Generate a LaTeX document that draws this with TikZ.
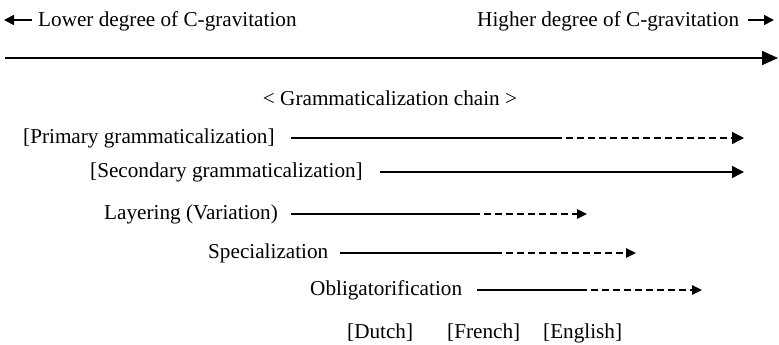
\documentclass[tikz,border=0pt]{standalone}
\usepackage{fontspec}
\setmainfont{Liberation Serif}
\usetikzlibrary{arrows.meta}
\tikzset{
  lbl/.style={anchor=base west,inner sep=0pt,font=\fontsize{21.2}{25}\selectfont},
  lblc/.style={anchor=base,inner sep=0pt,font=\fontsize{21.2}{25}\selectfont},
  solidline/.style={line width=1.4pt},
  dashline/.style={line width=1.4pt,dash pattern=on 7pt off 4pt,dash phase=7pt},
  headbig/.style={-{Triangle[length=12pt,width=12pt]}},
  headsmall/.style={-{Triangle[length=10pt,width=9.5pt]}},
  mainarrow/.style={line width=1.8pt,-{Triangle[length=16pt,width=14pt]}},
  toparrow/.style={line width=1.6pt,-{Triangle[length=10pt,width=10pt]}}
}
\begin{document}
\begin{tikzpicture}[x=1pt,y=-1pt]
\useasboundingbox (0,0) rectangle (779,345);
% top labels
\coordinate (la1) at (32,20);
\coordinate (la2) at (4,20);
\draw[toparrow] (la1) -- (la2);
\node[lbl] (low) at (38,27) {Lower degree of C-gravitation};
\node[lbl] (high) at (477,27) {Higher degree of C-gravitation};
\coordinate (ra1) at (748,20);
\coordinate (ra2) at (774,20);
\draw[toparrow] (ra1) -- (ra2);
% main axis
\coordinate (m1) at (5,58);
\coordinate (m2) at (778,58);
\draw[mainarrow] (m1) -- (m2);
% title
\node[lblc] (title) at (390,105) {< Grammaticalization chain >};
% Primary
\node[lbl] (prim) at (23,143) {[Primary grammaticalization]};
\coordinate (p1) at (291,138);
\coordinate (p2) at (562,138);
\coordinate (p3) at (744,138);
\draw[solidline] (p1) -- (p2);
\draw[dashline,headbig] (p2) -- (p3);
% Secondary
\node[lbl] (sec) at (90,177) {[Secondary grammaticalization]};
\coordinate (s1) at (380,172);
\coordinate (s3) at (744,172);
\draw[solidline,headbig] (s1) -- (s3);
% Layering
\node[lbl] (lay) at (104,219) {Layering (Variation)};
\coordinate (l1) at (291,214);
\coordinate (l2) at (480,214);
\coordinate (l3) at (587,214);
\draw[solidline] (l1) -- (l2);
\draw[dashline,headsmall] (l2) -- (l3);
% Specialization
\node[lbl] (spec) at (208,258) {Specialization};
\coordinate (sp1) at (340,253);
\coordinate (sp2) at (502,253);
\coordinate (sp3) at (636,253);
\draw[solidline] (sp1) -- (sp2);
\draw[dashline,headsmall] (sp2) -- (sp3);
% Obligatorification
\node[lbl] (obl) at (310,295) {Obligatorification};
\coordinate (o1) at (477,290);
\coordinate (o2) at (587,290);
\coordinate (o3) at (702,290);
\draw[solidline] (o1) -- (o2);
\draw[dashline,headsmall] (o2) -- (o3);
% languages
\node[lbl] (dutch) at (347,338) {[Dutch]};
\node[lbl] (french) at (447,338) {[French]};
\node[lbl] (english) at (543,338) {[English]};
\end{tikzpicture}
\end{document}
